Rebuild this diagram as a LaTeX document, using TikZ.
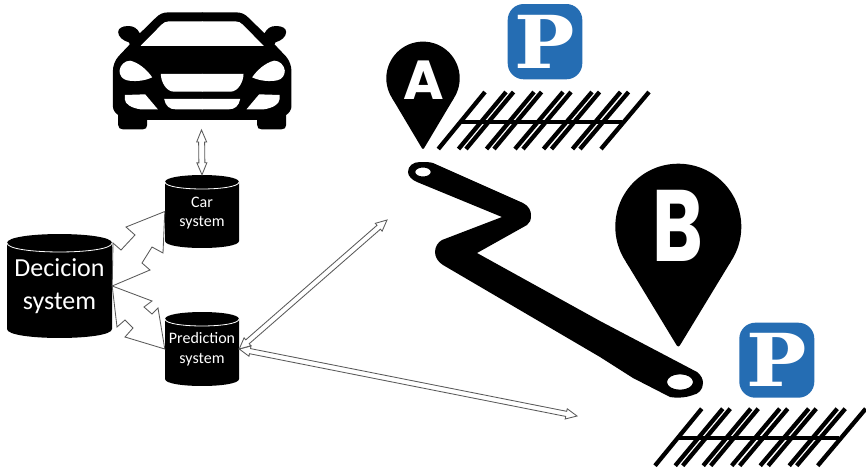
\documentclass[tikz,border=0pt]{standalone}
\usepackage{fontspec}
\setmainfont{Carlito}
\newfontfamily\pinfont{Poppins}
\newfontfamily\slabfont{DejaVu Serif}
\usetikzlibrary{calc}
\definecolor{badge}{HTML}{256DB3}
\definecolor{linkgray}{HTML}{5A5A5A}
\tikzset{
  x=1pt,y=-1pt,
  dbnode/.style={inner sep=0pt,text=white,align=center,rectangle},
  linkline/.style={draw=linkgray,line width=0.85pt,fill=white,line join=miter},
  hollow/.style={draw=linkgray,line width=0.85pt,fill=white,line join=miter},
  tally/.style={line width=4.3pt,black},
  pinletter/.style={text=white,inner sep=0pt},
  badgeletter/.style={text=white,inner sep=0pt},
}
% cylinder body: left, right, top, bottom, ry
\newcommand{\cylbody}[5]{%
  \fill[black] (#1,#3+#5) .. controls (#1,#3-#5*0.33) and (#2,#3-#5*0.33) .. (#2,#3+#5)
     -- (#2,#4-#5) .. controls (#2,#4+#5*0.33) and (#1,#4+#5*0.33) .. (#1,#4-#5) -- cycle;
  \draw[white,line width=0.8pt] (#1,#3+#5) .. controls (#1,#3+#5*2.33) and (#2,#3+#5*2.33) .. (#2,#3+#5);
}
\newcommand{\hollowarrow}[5]{% a,b,shaft half,head half,head length
  \draw[hollow] (#1)
   -- ($(#1)!#5!(#2)!#4!90:(#2)$) -- ($(#1)!#5!(#2)!#3!90:(#2)$)
   -- ($(#2)!#5!(#1)!#3!-90:(#1)$) -- ($(#2)!#5!(#1)!#4!-90:(#1)$)
   -- (#2)
   -- ($(#2)!#5!(#1)!#4!90:(#1)$) -- ($(#2)!#5!(#1)!#3!90:(#1)$)
   -- ($(#1)!#5!(#2)!#3!-90:(#2)$) -- ($(#1)!#5!(#2)!#4!-90:(#2)$)
   -- cycle;
}
\newcommand{\tallies}{%
  \draw[tally,line width=4pt] (460,121.7) -- (622,121.7);
  \foreach \a/\b in {438.3/485,458.5/506,466/513.5,486.5/534,494/541.5,515/563,523/571,543.5/592,551.5/599.5,572.5/620.5,580/628.5,601/649}
    \draw[tally] (\a,149) -- (\b,92);
}
\begin{document}
\begin{tikzpicture}
\useasboundingbox (0,0) rectangle (866,472);
\fill[white] (0,0) rectangle (866,472);

% car
\begin{scope}[shift={(202.17,0)},x=0.3333pt,y=-0.3333pt]
\foreach \s in {1,-1}{
\begin{scope}[xscale=\s]
\fill[black] (1,37) -- (-100,37) .. controls (-118,37) and (-128,42) .. (-140,54) -- (-187,100)
  .. controls (-195,85) and (-205,78) .. (-222,78)
  .. controls (-240,78) and (-252,85) .. (-252,96)
  .. controls (-252,110) and (-238,122) .. (-220,127)
  -- (-217,133) -- (-252,170)
  .. controls (-262,182) and (-268,198) .. (-268,215)
  -- (-268,318) .. controls (-268,330) and (-260,340) .. (-252,345)
  -- (-252,375) .. controls (-252,384) and (-246,388) .. (-238,388)
  -- (-178,388) .. controls (-170,388) and (-165,384) .. (-165,375)
  -- (-165,360) -- (1,360) -- cycle;
\end{scope}}
\foreach \s in {1,-1}{
\begin{scope}[xscale=\s]
\fill[white] (1,64) -- (-100,64) .. controls (-110,64) and (-115,68) .. (-122,74)
  -- (-185,138) -- (1,138) -- cycle;
\fill[white] (-248,212) .. controls (-246,195) and (-232,182) .. (-216,182)
  .. controls (-190,188) and (-165,210) .. (-150,232)
  .. controls (-175,244) and (-205,245) .. (-225,241)
  .. controls (-240,238) and (-248,226) .. (-248,212) -- cycle;
\fill[white] (1,222) -- (-124,222) .. controls (-124,245) and (-108,275) .. (-85,275) -- (1,275) -- cycle;
\fill[white] (-232,285) -- (-171,283) -- (-133,328) -- (-185,328)
  .. controls (-212,324) and (-232,312) .. (-232,298) -- cycle;
\fill[white] (1,297) -- (-114,297) .. controls (-110,318) and (-98,328) .. (-80,328) -- (1,328) -- cycle;
\end{scope}}
\end{scope}

% cylinders
\cylbody{7}{112}{234}{338}{9}
\cylbody{165}{239}{175}{248}{7}
\cylbody{165}{239}{312}{386}{7}
\node[dbnode,minimum width=105pt,minimum height=104pt,font=\fontsize{26}{33}\selectfont] (dec) at (59.5,286) {Decicion\\system};
\node[dbnode,minimum width=74pt,minimum height=73pt,font=\fontsize{16}{19.5}\selectfont] (car) at (202,211.5) {};
\node[dbnode,font=\fontsize{16}{19.5}\selectfont] (carlabel) at (202,213) {Car\\system};
\node[dbnode,minimum width=74pt,minimum height=74pt,font=\fontsize{16}{19.5}\selectfont] (pred) at (202,349) {Prediction\\system};

% connectors
\coordinate (cartop) at (201.5,130);
\coordinate (roada) at (387,220);
\coordinate (roadb) at (577,416);
\coordinate (dectop) at (113,243);
\draw[linkline] (dec.east) -- (150,270) -- (142,263) -- (152,247) -- (163,253) -- (car.west)
  -- (126,227) -- (135,235) -- (121,250) -- (dectop) -- cycle;
\draw[linkline] (dec.east) -- (152,301) -- (144,307) -- (152,314) -- (158,308) -- (pred.west)
  -- (125,337) -- (133,328) -- (125,320) -- (117,327) -- cycle;
\hollowarrow{car.north}{cartop}{3pt}{5pt}{12pt}
\hollowarrow{pred.east}{roadb}{2.6pt}{5.2pt}{11pt}
\hollowarrow{pred.east}{roada}{2.6pt}{5.2pt}{11pt}

% road
\fill[black,even odd rule] (408,172) .. controls (408,166) and (413,162) .. (420,162)
  .. controls (425,162) and (430,162) .. (433,163) -- (523,203)
  .. controls (529,206) and (531,211) .. (531,215)
  .. controls (531,220) and (530,223) .. (527,225)
  -- (477,253) -- (600,321) -- (697,372)
  .. controls (701,375) and (703,379) .. (703,383)
  .. controls (703,390) and (698,394) .. (693,395)
  .. controls (685,398) and (676,398) .. (670,397)
  -- (633,378) -- (600,357) -- (443,265)
  .. controls (438,262) and (435,257) .. (435,252)
  .. controls (435,247) and (438,242) .. (442,240)
  -- (502,217) -- (417,182)
  .. controls (412,180) and (408,176) .. (408,172) -- cycle
  (423,172) ellipse [x radius=7.7pt,y radius=4.5pt]
  (680,382) ellipse [x radius=13pt,y radius=7.7pt];

% pin A
\fill[black] (423,78.3) circle (36.7pt);
\fill[black,rounded corners=2pt] (391.5,97.1) -- (423,150) -- (454.5,97.1) -- cycle;
\node[pinletter,font=\fontsize{55}{55}\pinfont\bfseries] (pina) at (423.3,80) {A};

% pin B
\fill[black] (678.3,226.7) circle (63pt);
\fill[black,rounded corners=3pt] (624.6,259.6) -- (678.3,348) -- (732,259.6) -- cycle;
\node[pinletter,xscale=0.82,yscale=1.08,font=\fontsize{94}{94}\pinfont\bfseries] (pinb) at (678,226) {B};

% badges
\fill[badge,rounded corners=16pt] (507.7,4) rectangle (582.3,79.3);
\node[badgeletter,xscale=1.1,font=\fontsize{73}{73}\slabfont\bfseries] (pone) at (545,41.7) {P};
\fill[badge,rounded corners=16pt] (739.3,322.7) rectangle (814.3,397.7);
\node[badgeletter,xscale=1.1,font=\fontsize{73}{73}\slabfont\bfseries] (ptwo) at (777,360) {P};

% parking rows
\tallies
\begin{scope}[shift={(216.7,316.7)}]
\tallies
\end{scope}
\end{tikzpicture}
\end{document}
